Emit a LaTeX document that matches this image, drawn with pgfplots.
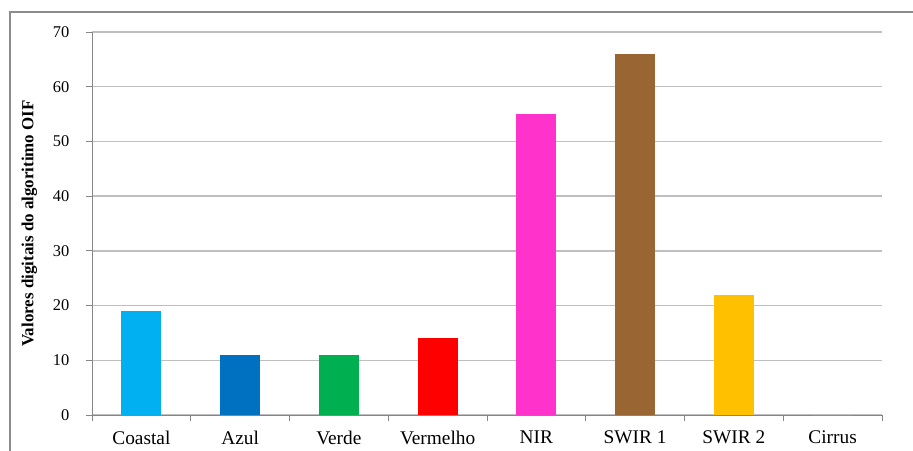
\documentclass[border=0pt]{standalone}
\usepackage{pgfplots}
\pgfplotsset{compat=1.18}
\usepackage{fontspec}
\setmainfont{Liberation Serif}
\definecolor{cCoastal}{HTML}{00B0F0}
\definecolor{cAzul}{HTML}{0070C0}
\definecolor{cVerde}{HTML}{00B050}
\definecolor{cVerm}{HTML}{FF0000}
\definecolor{cNIR}{HTML}{FF33CC}
\definecolor{cSWIR1}{HTML}{996633}
\definecolor{cSWIR2}{HTML}{FFC000}
\definecolor{gridc}{HTML}{BFBFBF}
\definecolor{axisc}{HTML}{868686}
\begin{document}
\begin{tikzpicture}
\useasboundingbox (0,0) rectangle (684.75pt,337.5pt);
\draw[color=gray!90, line width=1.2pt] (7.5pt,-10pt) -- (7.5pt,328.5pt) -- (700pt,328.5pt);
\begin{axis}[
  at={(69pt,26.25pt)}, anchor=south west,
  scale only axis, width=592.5pt, height=287.25pt,
  xmin=-0.5, xmax=7.5, ymin=0, ymax=70,
  ytick={0,10,...,70},
  xtick={0,...,7},
  xticklabels={Coastal,Azul,Verde,Vermelho,NIR,SWIR 1,SWIR 2,Cirrus},
  minor xtick={-0.5,0.5,...,7.5},
  major x tick style={draw=none},
  tick align=outside,
  major tick length=4.5pt, minor tick length=4.5pt,
  tick style={axisc, line width=0.6pt},
  axis lines*=left,
  axis line style={-, axisc, line width=0.6pt},
  ymajorgrids, grid style={gridc, line width=1.1pt},
  /pgf/number format/assume math mode=true,
  yticklabel style={font=\fontsize{12.3}{14}\selectfont, xshift=-9pt},
  xticklabel style={font=\fontsize{14.5}{16}\selectfont, yshift=-4pt},
  ylabel={\textbf{Valores digitais do algoritimo OIF}},
  ylabel style={font=\fontsize{12.7}{14}\selectfont},
  ylabel shift=5pt,
  ybar, bar width=30pt, bar shift=0pt,
]
\addplot[fill=cCoastal, draw=none] coordinates {(0,19)};
\addplot[fill=cAzul, draw=none] coordinates {(1,11)};
\addplot[fill=cVerde, draw=none] coordinates {(2,11)};
\addplot[fill=cVerm, draw=none] coordinates {(3,14)};
\addplot[fill=cNIR, draw=none] coordinates {(4,55)};
\addplot[fill=cSWIR1, draw=none] coordinates {(5,66)};
\addplot[fill=cSWIR2, draw=none] coordinates {(6,22)};
\addplot[fill=cSWIR2, draw=none] coordinates {(7,0)};
\end{axis}
\end{tikzpicture}
\end{document}
